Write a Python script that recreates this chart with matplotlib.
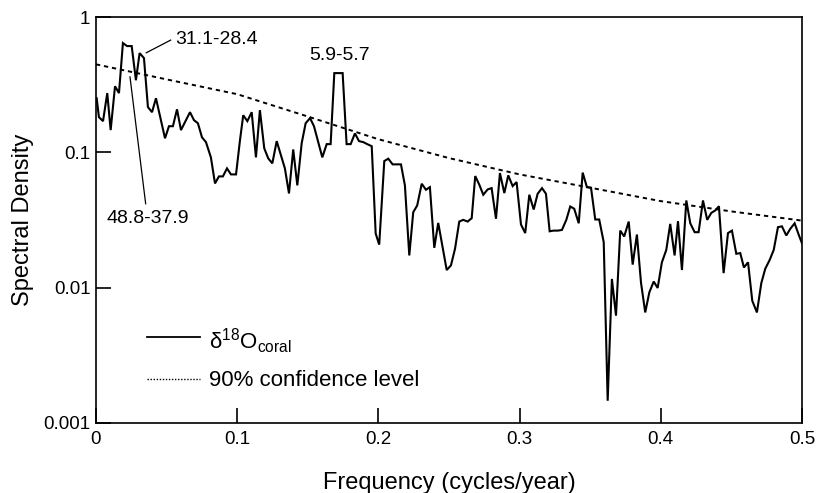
import matplotlib
matplotlib.use('Agg')
import matplotlib.pyplot as plt
from matplotlib.ticker import FixedLocator, FixedFormatter

plt.rcParams['font.family'] = ['Liberation Sans', 'DejaVu Sans']
plt.rcParams['mathtext.fontset'] = 'custom'
plt.rcParams['mathtext.rm'] = 'Liberation Sans'
plt.rcParams['mathtext.it'] = 'Liberation Sans:italic'

# coral d18O power spectrum (frequency in cycles/year)
freq = [0.0005, 0.0021, 0.0050, 0.0080, 0.0104, 0.0135, 0.0163, 0.0191, 0.0220, 0.0253,
        0.0283, 0.0309, 0.0340, 0.0368, 0.0397, 0.0425, 0.0489, 0.0517, 0.0545, 0.0574,
        0.0602, 0.0666, 0.0694, 0.0722, 0.0751, 0.0779, 0.0814, 0.0843, 0.0871, 0.0899,
        0.0928, 0.0956, 0.0992, 0.1020, 0.1043, 0.1072, 0.1103, 0.1133, 0.1161, 0.1192,
        0.1220, 0.1249, 0.1280, 0.1310, 0.1338, 0.1367, 0.1397, 0.1426, 0.1457, 0.1485,
        0.1516, 0.1544, 0.1574, 0.1603, 0.1634, 0.1662, 0.1688, 0.1747, 0.1775, 0.1804,
        0.1834, 0.1863, 0.1893, 0.1921, 0.1953, 0.1981, 0.2006, 0.2042, 0.2070, 0.2101,
        0.2130, 0.2160, 0.2188, 0.2219, 0.2247, 0.2275, 0.2307, 0.2337, 0.2365, 0.2396,
        0.2424, 0.2455, 0.2484, 0.2514, 0.2543, 0.2573, 0.2601, 0.2632, 0.2661, 0.2686,
        0.2715, 0.2743, 0.2774, 0.2802, 0.2833, 0.2861, 0.2892, 0.2920, 0.2951, 0.2979,
        0.3010, 0.3040, 0.3069, 0.3100, 0.3128, 0.3159, 0.3187, 0.3213, 0.3241, 0.3272,
        0.3300, 0.3331, 0.3359, 0.3387, 0.3419, 0.3447, 0.3477, 0.3506, 0.3536, 0.3564,
        0.3596, 0.3624, 0.3654, 0.3683, 0.3713, 0.3741, 0.3773, 0.3801, 0.3831, 0.3860,
        0.3890, 0.3919, 0.3950, 0.3978, 0.4008, 0.4039, 0.4067, 0.4098, 0.4122, 0.4150,
        0.4181, 0.4209, 0.4240, 0.4268, 0.4299, 0.4329, 0.4358, 0.4386, 0.4412, 0.4445,
        0.4476, 0.4504, 0.4535, 0.4563, 0.4589, 0.4618, 0.4648, 0.4681, 0.4712, 0.4740,
        0.4771, 0.4800, 0.4830, 0.4858, 0.4889, 0.4917, 0.4948, 0.4977, 0.5000]
density = [0.251, 0.182, 0.170, 0.274, 0.146, 0.308, 0.274, 0.642, 0.610, 0.610,
           0.341, 0.541, 0.497, 0.216, 0.198, 0.251, 0.127, 0.156, 0.156, 0.208,
           0.146, 0.198, 0.173, 0.164, 0.129, 0.119, 0.0918, 0.0589, 0.0664, 0.0664,
           0.0761, 0.0687, 0.0687, 0.123, 0.188, 0.170, 0.198, 0.0918, 0.205, 0.107,
           0.0903, 0.0829, 0.121, 0.0950, 0.0761, 0.0497, 0.105, 0.0570, 0.117, 0.164,
           0.179, 0.156, 0.119, 0.0918, 0.115, 0.115, 0.385, 0.385, 0.115, 0.115,
           0.138, 0.121, 0.119, 0.115, 0.111, 0.0251, 0.0208, 0.0862, 0.0898, 0.0815,
           0.0815, 0.0815, 0.0570, 0.0173, 0.0361, 0.0405, 0.0586, 0.0529, 0.0553, 0.0197,
           0.0301, 0.0199, 0.0135, 0.0146, 0.0194, 0.0308, 0.0317, 0.0308, 0.0326, 0.0668,
           0.0576, 0.0486, 0.0532, 0.0544, 0.0323, 0.0703, 0.0500, 0.0676, 0.0563, 0.0603,
           0.0293, 0.0253, 0.0486, 0.0378, 0.0494, 0.0544, 0.0494, 0.0261, 0.0264, 0.0264,
           0.0267, 0.0317, 0.0398, 0.0383, 0.0299, 0.0708, 0.0553, 0.0548, 0.0319, 0.0319,
           0.0217, 0.00146, 0.0116, 0.00621, 0.0264, 0.0239, 0.0308, 0.0148, 0.0247, 0.0109,
           0.00656, 0.00923, 0.0111, 0.00995, 0.0154, 0.0190, 0.0296, 0.0173, 0.0310, 0.0135,
           0.0441, 0.0299, 0.0257, 0.0257, 0.0441, 0.0317, 0.0357, 0.0372, 0.0400, 0.0128,
           0.0253, 0.0264, 0.0178, 0.0180, 0.0141, 0.0154, 0.00801, 0.00656, 0.0108, 0.0138,
           0.0160, 0.0190, 0.0280, 0.0284, 0.0243, 0.0272, 0.0299, 0.0246, 0.0213]

# 90% confidence level
conf_freq = [0.0, 0.05, 0.1, 0.15, 0.2, 0.25, 0.3, 0.35, 0.4, 0.45, 0.5]
conf_level = [0.447, 0.346, 0.269, 0.184, 0.125, 0.0907, 0.0687, 0.0548, 0.0436, 0.0366, 0.0313]

xticks = [0, 0.1, 0.2, 0.3, 0.4, 0.5]
xlabels = ['0', '0.1', '0.2', '0.3', '0.4', '0.5']
yticks = [0.001, 0.01, 0.1, 1]
ylabels = ['0.001', '0.01', '0.1', '1']

fig = plt.figure(figsize=(8.16, 4.93), dpi=100)
ax = fig.add_axes([0.1176, 0.142, 0.8652, 0.8235])

ax.plot(freq, density, color='black', lw=1.5, solid_joinstyle='miter')
ax.plot(conf_freq, conf_level, color='black', lw=1.4, linestyle=(0, (2.2, 2.0)))

ax.set_yscale('log')
ax.set_xlim(0, 0.5)
ax.set_ylim(0.001, 1)

ax.xaxis.set_major_locator(FixedLocator(xticks))
ax.xaxis.set_major_formatter(FixedFormatter(xlabels))
ax.yaxis.set_major_locator(FixedLocator(yticks))
ax.yaxis.set_major_formatter(FixedFormatter(ylabels))
ax.yaxis.set_minor_locator(FixedLocator([]))
ax.tick_params(which='major', direction='in', length=11, width=1.2, labelsize=13.5)
ax.tick_params(axis='y', pad=4)
ax.tick_params(axis='x', pad=6)
for sp in ax.spines.values():
    sp.set_linewidth(1.2)

ax.set_xlabel('Frequency (cycles/year)', fontsize=17, labelpad=17)
ax.set_ylabel('Spectral Density', fontsize=17, labelpad=7)

# period labels (years)
ax.plot([0.0356, 0.0529], [0.544, 0.675], color='black', lw=0.9)
ax.text(0.056, 0.687, '31.1-28.4', fontsize=14, ha='left', va='center')
ax.plot([0.0241, 0.0352], [0.361, 0.0417], color='black', lw=0.9)
ax.text(0.037, 0.0324, '48.8-37.9', fontsize=14, ha='center', va='center')
ax.text(0.1728, 0.523, '5.9-5.7', fontsize=14, ha='center', va='center')

# legend
ax.plot([0.072, 0.147], [0.211, 0.211], color='black', lw=1.3, transform=ax.transAxes)
ax.text(0.1605, 0.182, r'δ$^{\mathregular{18}}$O$_{\mathregular{coral}}$', fontsize=16,
        transform=ax.transAxes, ha='left', va='baseline')
ax.plot([0.072, 0.147], [0.1076, 0.1076], color='black', lw=1.0, linestyle=(0, (1, 1.2)),
        transform=ax.transAxes)
ax.text(0.1605, 0.091, '90% confidence level', fontsize=16,
        transform=ax.transAxes, ha='left', va='baseline')

fig.savefig('out.png', dpi=100)
